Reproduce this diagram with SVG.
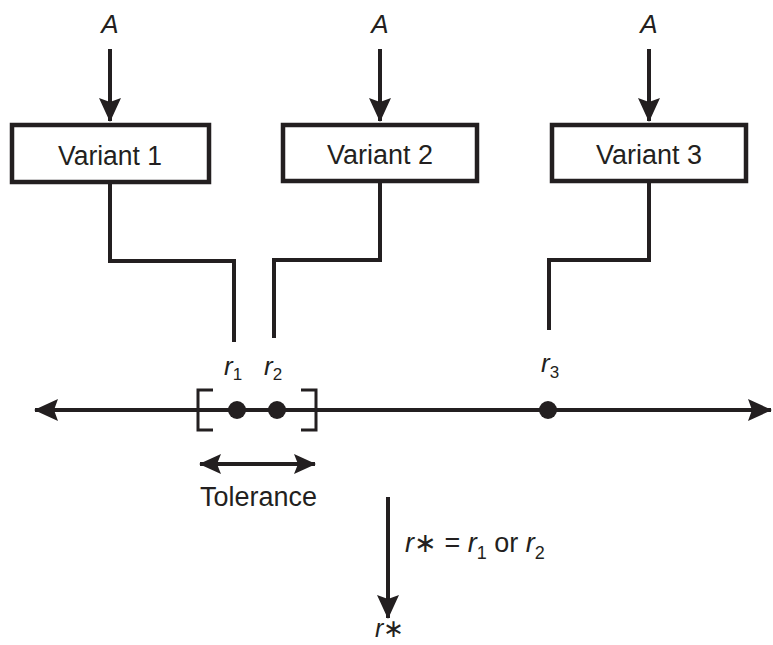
<svg xmlns="http://www.w3.org/2000/svg" width="773" height="645" viewBox="0 0 773 645">
<style>
.box{fill:#fff;stroke:#231f20;stroke-width:4.5}
.ln{fill:none;stroke:#231f20;stroke-width:4}
.lbl{font-family:"Liberation Sans",Arial,sans-serif;font-size:27px;fill:#231f20}
.it{font-family:"Liberation Sans",Arial,sans-serif;font-style:italic;fill:#231f20}
.br{fill:none;stroke:#231f20;stroke-width:3}
</style>
<defs>
<marker id="ah" viewBox="0 0 24 22" refX="23" refY="11" markerWidth="24" markerHeight="22" markerUnits="userSpaceOnUse" orient="auto-start-reverse">
<path d="M0,0 L24,11 L0,22 L4,11 z" fill="#231f20"/>
</marker>
<marker id="ahs" viewBox="0 0 22 20" refX="21" refY="10" markerWidth="22" markerHeight="20" markerUnits="userSpaceOnUse" orient="auto-start-reverse">
<path d="M0,0 L22,10 L0,20 L4,10 z" fill="#231f20"/>
</marker>
</defs>
<g id="connectors">
<line class="ln" x1="110" y1="49" x2="110" y2="121" marker-end="url(#ah)"/>
<line class="ln" x1="380" y1="49" x2="380" y2="121" marker-end="url(#ah)"/>
<line class="ln" x1="649" y1="49" x2="649" y2="121" marker-end="url(#ah)"/>
<path class="ln" d="M110,183 V261 H234 V342"/>
<path class="ln" d="M380,181 V260 H274 V338"/>
<path class="ln" d="M649,181 V260 H549 V330"/>
<line class="ln" x1="35" y1="410" x2="771" y2="410" marker-start="url(#ah)" marker-end="url(#ah)"/>
<line class="ln" x1="200" y1="464" x2="315" y2="464" marker-start="url(#ahs)" marker-end="url(#ahs)"/>
<line class="ln" x1="388" y1="497" x2="388" y2="618" marker-end="url(#ah)"/>
</g>
<g id="inputA">
<text class="it" x="110" y="33" font-size="26" text-anchor="middle">A</text>
<text class="it" x="380" y="33" font-size="26" text-anchor="middle">A</text>
<text class="it" x="649" y="33" font-size="26" text-anchor="middle">A</text>
</g>
<g id="variant1">
<rect class="box" x="12" y="125" width="197" height="57"/>
<text class="lbl" x="110" y="165" text-anchor="middle" textLength="104" lengthAdjust="spacingAndGlyphs">Variant 1</text>
</g>
<g id="variant2">
<rect class="box" x="283" y="125" width="194" height="56"/>
<text class="lbl" x="380" y="164" text-anchor="middle" textLength="106" lengthAdjust="spacingAndGlyphs">Variant 2</text>
</g>
<g id="variant3">
<rect class="box" x="552" y="125" width="194" height="56"/>
<text class="lbl" x="649" y="164" text-anchor="middle" textLength="106" lengthAdjust="spacingAndGlyphs">Variant 3</text>
</g>
<g id="axis">
<path class="br" d="M213,390 H198 V430 H213"/>
<path class="br" d="M301,390 H316 V430 H301"/>
<circle cx="237" cy="410" r="9" fill="#231f20"/>
<circle cx="277" cy="410" r="9" fill="#231f20"/>
<circle cx="548" cy="410" r="9" fill="#231f20"/>
<text class="it" x="224" y="375" font-size="26">r<tspan font-style="normal" font-size="17" dy="5">1</tspan></text>
<text class="it" x="264" y="375" font-size="26">r<tspan font-style="normal" font-size="17" dy="5">2</tspan></text>
<text class="it" x="541" y="372" font-size="26">r<tspan font-style="normal" font-size="17" dy="6">3</tspan></text>
</g>
<g id="tolerance">
<text class="lbl" x="200" y="506" textLength="117" lengthAdjust="spacingAndGlyphs">Tolerance</text>
</g>
<g id="result">
<text class="it" x="405" y="552" font-size="27">r<tspan font-style="normal">∗ = </tspan>r<tspan font-style="normal" font-size="18" dy="7">1</tspan><tspan font-style="normal" dy="-7"> or </tspan>r<tspan font-style="normal" font-size="18" dy="7">2</tspan></text>
<text class="it" x="375" y="637" font-size="25">r<tspan font-style="normal">∗</tspan></text>
</g>
</svg>
